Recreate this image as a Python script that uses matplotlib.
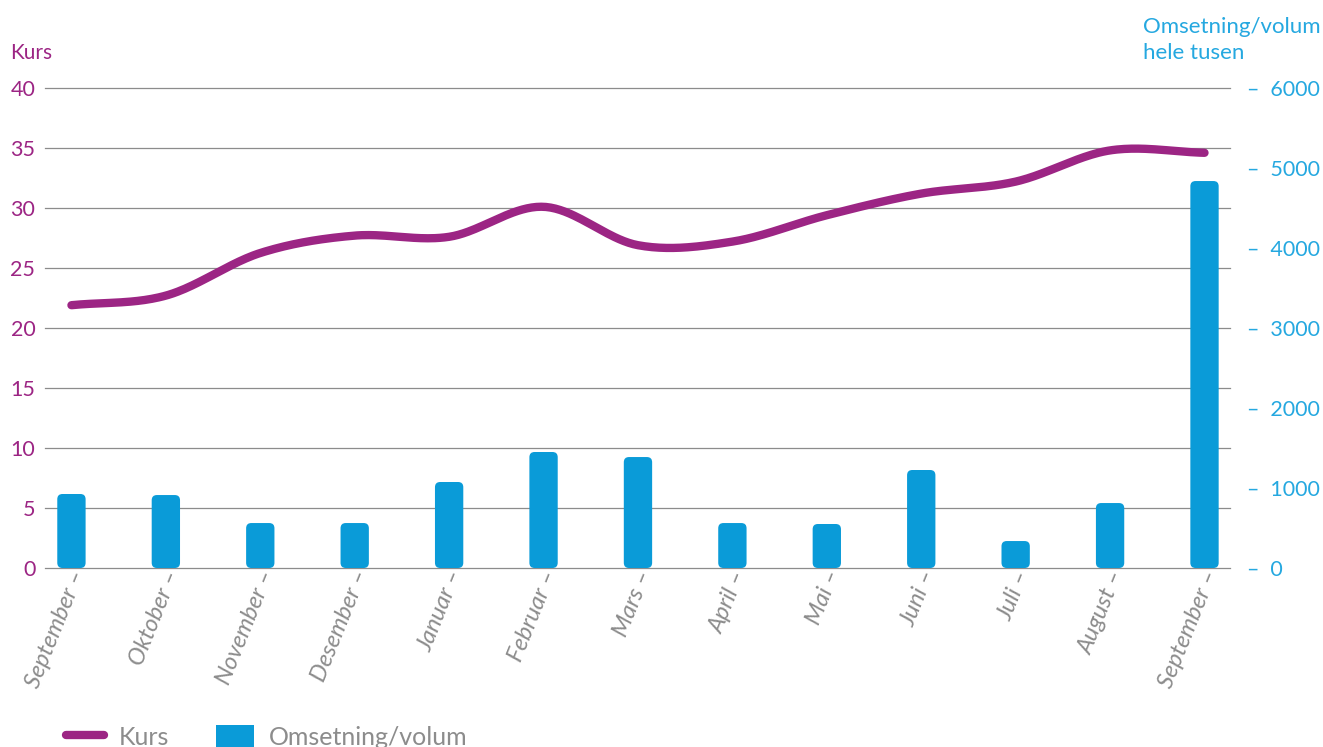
import numpy as np
import matplotlib.pyplot as plt
from matplotlib.patches import FancyBboxPatch, Patch
from matplotlib.lines import Line2D
from matplotlib.transforms import ScaledTranslation

plt.rcParams['font.family'] = ['Lato', 'DejaVu Sans']

#%% data
months = ['September', 'Oktober', 'November', 'Desember', 'Januar', 'Februar',
          'Mars', 'April', 'Mai', 'Juni', 'Juli', 'August', 'September']
kurs = [21.9, 22.7, 26.25, 27.7, 27.6, 30.1, 26.9, 27.2, 29.4, 31.2, 32.2, 34.8, 34.6]
volum = [925, 912, 562, 562, 1075, 1450, 1387, 562, 550, 1225, 337, 812, 4837]

kurs_ticks = list(range(0, 41, 5))
volum_ticks = list(range(0, 6001, 1000))

PURPLE = '#9c2584'
BLUE = '#0a9bd8'
BLUE_TXT = '#25a8e0'
GREY = '#8c8c8c'


def catmull_rom(y, n=40):
    # smooth curve through the points (same look as the original)
    y = np.asarray(y, float)
    p = np.concatenate([[2 * y[0] - y[1]], y, [2 * y[-1] - y[-2]]])
    xs, ys = [], []
    t = np.linspace(0, 1, n, endpoint=False)
    for i in range(len(y) - 1):
        p0, p1, p2, p3 = p[i:i + 4]
        ys.append(0.5 * (2 * p1 + (-p0 + p2) * t
                         + (2 * p0 - 5 * p1 + 4 * p2 - p3) * t ** 2
                         + (-p0 + 3 * p1 - 3 * p2 + p3) * t ** 3))
        xs.append(i + t)
    xs.append([len(y) - 1])
    ys.append([y[-1]])
    return np.concatenate(xs), np.concatenate(ys)


#%% figure
W, H = 1323, 747
fig = plt.figure(figsize=(W / 100, H / 100), dpi=100)
ax = fig.add_axes([45 / W, 179 / H, 1185 / W, 480 / H])
ax2 = ax.twinx()

x = np.arange(len(months))
xlim = (-0.28, 12.27)
kmax, vmax = 40, 6000

# bars (right axis), rounded corners
ax2.set_xlim(*xlim)
ax2.set_ylim(0, vmax)
px_x = 1185 / (xlim[1] - xlim[0])
px_y = 480 / vmax
bw = 0.3
for xi, v in zip(x, volum):
    ax2.add_patch(FancyBboxPatch((xi - bw / 2, 0), bw, v,
                                 boxstyle="round,pad=0,rounding_size=0.055",
                                 mutation_aspect=px_x / px_y,
                                 fc=BLUE, ec='none', zorder=3))
ax2.set_yticks(volum_ticks)
ax2.set_yticklabels([f"–  {v}" for v in volum_ticks])
ax2.tick_params(axis='y', length=0, pad=12, labelsize=15.5, labelcolor=BLUE_TXT)
# grid follows the Kurs ticks, but must sit under the bars
for k in kurs_ticks:
    ax2.axhline(k * vmax / kmax, color=GREY, lw=0.9, zorder=0.5, clip_on=False)

# line (left axis) on top
ax.set_zorder(ax2.get_zorder() + 1)
ax.patch.set_visible(False)
sx, sy = catmull_rom(kurs)
ax.plot(sx, sy, color=PURPLE, lw=6, solid_capstyle='round', zorder=5)
ax.set_xlim(*xlim)
ax.set_ylim(0, kmax)
ax.set_yticks(kurs_ticks)
ax.tick_params(axis='y', length=0, pad=7, labelsize=15.5, labelcolor=PURPLE)
ax.set_xticks(x)
ax.tick_params(axis='x', length=0, pad=10)
ax.set_xticklabels([f"{m} –" for m in months], rotation=68, ha='right',
                   va='center', rotation_mode='anchor', style='italic',
                   fontsize=17, color=GREY)
shift = ScaledTranslation(0.08, 0.11, fig.dpi_scale_trans)
for lab in ax.get_xticklabels():
    lab.set_transform(lab.get_transform() + shift)

for a in (ax, ax2):
    for s in a.spines.values():
        s.set_visible(False)

# axis titles
fig.text(10 / W, 1 - 59 / H, "Kurs", color=PURPLE, fontsize=15, va='baseline')
fig.text(1143 / W, 1 - 33 / H, "Omsetning/volum", color=BLUE_TXT, fontsize=16, va='baseline')
fig.text(1143 / W, 1 - 59 / H, "hele tusen", color=BLUE_TXT, fontsize=16, va='baseline')

# legend
handles = [Line2D([], [], color=PURPLE, lw=6, solid_capstyle='round'),
           Patch(fc=BLUE, ec='none')]
fig.legend(handles, ["Kurs", "Omsetning/volum"], loc='center left',
           bbox_to_anchor=(66 / W, 1 - 737 / H), ncol=2, frameon=False,
           fontsize=18, labelcolor=GREY, handlelength=1.5, handleheight=1.1,
           handletextpad=0.6, columnspacing=1.9, borderpad=0, borderaxespad=0)

fig.savefig("out.png", dpi=100)
